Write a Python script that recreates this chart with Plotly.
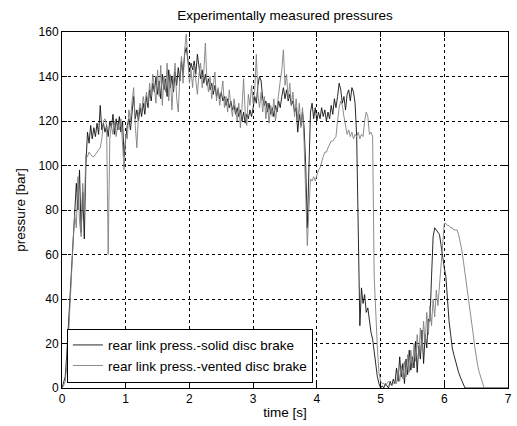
import plotly.graph_objects as go

# sampling step of the recorded signals [s]
dt = 0.025

# rear link pressure, solid disc brake [bar] (one value per 0.025 s, 0..7 s)
p_solid = [
    # 0 - 1 s
    0, 2, 5, 15, 28, 42, 58, 72, 85, 92,
    80, 98, 70, 88, 67, 100, 115, 110, 118, 112,
    117, 113, 119, 114, 127, 116, 119, 115, 118, 113,
    120, 117, 123, 114, 121, 116, 122, 115, 120, 104,
    # 1 - 2 s
    112, 118, 121, 116, 124, 131, 121, 125, 120, 126,
    122, 128, 123, 131, 126, 134, 129, 137, 133, 140,
    132, 138, 130, 141, 134, 139, 131, 143, 135, 140,
    133, 142, 136, 144, 138, 147, 141, 150, 153, 146,
    # 2 - 3 s
    142, 146, 143, 147, 141, 150, 144, 139, 143, 137,
    141, 136, 139, 134, 137, 132, 136, 131, 134, 130,
    133, 129, 131, 127, 130, 126, 129, 125, 127, 123,
    126, 122, 125, 120, 124, 119, 123, 121, 125, 122,
    # 3 - 4 s
    126, 131, 128, 136, 140, 138, 130, 127, 129, 124,
    128, 123, 126, 122, 127, 124, 129, 126, 131, 135,
    130, 134, 129, 132, 127, 129, 124, 126, 115, 123,
    118, 124, 117, 100, 72, 95, 124, 128, 121, 126,
    # 4 - 5 s
    120, 124, 121, 126, 122, 125, 120, 124, 121, 127,
    123, 130, 126, 131, 137, 134, 128, 131, 125, 132,
    134, 129, 135, 133, 128, 113, 60, 28, 45, 38,
    42, 34, 36, 30, 25, 22, 16, 10, 5, 2,
    # 5 - 6 s
    0, 1, 0, 2, 1, 0, 3, 1, 4, 2,
    9, 3, 14, 5, 11, 2, 13, 6, 17, 8,
    14, 9, 21, 7, 19, 13, 26, 11, 24, 18,
    31, 30, 50, 68, 72, 71, 70, 69, 64, 58,
    # 6 - 7 s
    54, 50, 38, 30, 24, 18, 15, 12, 10, 7,
    5, 3, 1, 0, 0, 0, 0, 0, 0, 0,
    0, 0, 0, 0, 0, 0, 0, 0, 0, 0,
    0, 0, 0, 0, 0, 0, 0, 0, 0, 0,
    0,
]

# rear link pressure, vented disc brake [bar]
p_vented = [
    # 0 - 1 s
    0, 1, 3, 10, 22, 38, 52, 66, 78, 72,
    95, 75, 68, 92, 80, 105, 104, 106, 105, 104,
    104, 105, 106, 107, 108, 112, 120, 121, 118, 60,
    112, 118, 114, 120, 113, 119, 116, 121, 110, 98,
    # 1 - 2 s
    114, 112, 125, 120, 129, 135, 118, 108, 123, 128,
    124, 131, 126, 133, 128, 137, 131, 141, 135, 128,
    143, 131, 145, 127, 140, 133, 146, 129, 141, 125,
    138, 146, 130, 124, 140, 149, 137, 152, 159, 148,
    # 2 - 3 s
    137, 143, 135, 145, 138, 132, 141, 146, 135, 142,
    155, 138, 133, 140, 130, 136, 142, 129, 135, 127,
    133, 138, 126, 131, 124, 134, 127, 122, 130, 125,
    120, 128, 117, 126, 139, 124, 118, 132, 127, 136,
    # 3 - 4 s
    128, 134, 150, 132, 126, 133, 124, 131, 121, 128,
    119, 127, 122, 130, 120, 126, 133, 138, 143, 152,
    136, 141, 130, 137, 127, 133, 122, 130, 120, 128,
    117, 126, 110, 85, 64, 80, 94, 93, 95, 93,
    # 4 - 5 s
    96, 98, 99, 102, 104, 106, 106, 108, 110, 111,
    111, 112, 113, 120, 126, 129, 127, 122, 117, 114,
    116, 113, 115, 112, 114, 113, 115, 112, 114, 113,
    120, 124, 122, 114, 115, 113, 50, 32, 18, 7,
    # 5 - 6 s
    3, 2, 2, 1, 2, 3, 2, 1, 2, 3,
    2, 8, 3, 10, 4, 12, 5, 15, 7, 17,
    9, 20, 12, 24, 14, 27, 17, 30, 20, 34,
    24, 37, 28, 40, 32, 44, 37, 47, 55, 68,
    # 6 - 7 s
    74, 74, 73, 73, 72, 72, 71, 71, 71, 69,
    66, 62, 57, 52, 47, 42, 37, 31, 25, 19,
    14, 10, 7, 5, 2, 0, 0, 0, 0, 0,
    0, 0, 0, 0, 0, 0, 0, 0, 0, 0,
    0,
]

t_solid = [round(i * dt, 3) for i in range(len(p_solid))]
t_vented = [round(i * dt, 3) for i in range(len(p_vented))]

x_ticks = [0, 1, 2, 3, 4, 5, 6, 7]
y_ticks = [0, 20, 40, 60, 80, 100, 120, 140, 160]

title_text = "Experimentally measured pressures"
x_label = "time [s]"
y_label = "pressure [bar]"
name_solid = "rear link press.-solid disc brake"
name_vented = "rear link press.-vented disc brake"

FONT = "Arial, Liberation Sans, sans-serif"
TXT = 13.5

fig = go.Figure()
fig.add_trace(go.Scatter(x=t_solid, y=p_solid, mode="lines", name=name_solid,
                         line=dict(color="#111111", width=0.9)))
fig.add_trace(go.Scatter(x=t_vented, y=p_vented, mode="lines", name=name_vented,
                         line=dict(color="#808080", width=0.9)))

axis_common = dict(
    showline=True, linecolor="black", linewidth=1, mirror="ticks",
    ticks="inside", ticklen=5, tickcolor="black",
    showgrid=True, gridcolor="black", gridwidth=1, griddash="3px,3px",
    zeroline=False, tickfont=dict(family=FONT, size=12, color="black"),
)

fig.update_xaxes(range=[0, 7], tickvals=x_ticks, title=dict(text=x_label, standoff=2,
                 font=dict(family=FONT, size=TXT, color="black")), **axis_common)
fig.update_yaxes(range=[0, 160], tickvals=y_ticks, title=dict(text=y_label, standoff=9,
                 font=dict(family=FONT, size=TXT, color="black")), **axis_common)

fig.update_layout(
    width=517, height=426,
    margin=dict(l=62, r=5, t=32, b=38),
    paper_bgcolor="white", plot_bgcolor="white",
    font=dict(family=FONT, size=12, color="black"),
    title=dict(text=title_text, x=0.5, xref="paper", xanchor="center",
               y=1 - 15 / 426, yref="container", yanchor="middle",
               font=dict(family=FONT, size=TXT, color="black")),
    showlegend=True,
    legend=dict(x=0.011, y=0.015, xanchor="left", yanchor="bottom",
                bgcolor="white", bordercolor="black", borderwidth=1,
                font=dict(family=FONT, size=TXT, color="black"),
                itemwidth=30, tracegroupgap=0),
)

fig.write_html("out.html",
               config={"displayModeBar": False},
               post_script="document.body.style.margin='0';document.body.style.overflow='hidden';")
